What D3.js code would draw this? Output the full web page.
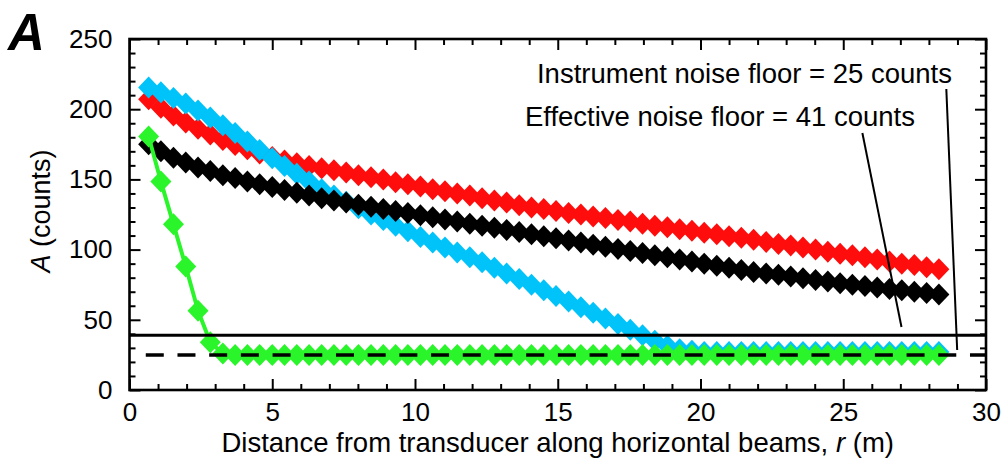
<!DOCTYPE html>
<html><head><meta charset="utf-8">
<script src="https://cdn.jsdelivr.net/npm/d3@7"></script>
<style>body{margin:0;background:#fff}svg{display:block;font-family:"Liberation Sans",Arial,Helvetica,sans-serif}</style>
</head><body><svg id="c" width="1001" height="466"></svg>
<script>
// Distance along beam (m)
const r = [0.67,1.10,1.54,1.97,2.40,2.83,3.27,3.70,4.13,4.56,5.00,5.43,5.86,6.29,6.73,7.16,7.59,8.02,8.46,8.89,9.32,9.75,10.19,10.62,11.05,11.48,11.92,12.35,12.78,13.21,13.65,14.08,14.51,14.94,15.38,15.81,16.24,16.67,17.11,17.54,17.97,18.40,18.84,19.27,19.70,20.13,20.57,21.00,21.43,21.86,22.30,22.73,23.16,23.59,24.03,24.46,24.89,25.32,25.76,26.19,26.62,27.05,27.49,27.92,28.35];
const redA = [207,201,195.5,190.5,186,182,178,174.5,171.5,168.5,166,163.5,161.5,159.5,158,156.5,155,153,151.5,150,148,146.5,145,143,141.5,140,138.5,136.5,135,133.5,131.5,130,129,127.5,126,125,123.5,122.5,121,120,118.5,117,116,114.5,113.5,112,111,109.5,108.5,107,105.5,104,103,101.5,100,98.5,97,96,94.5,93,91.5,90,89,87.5,86];
const blackA = [175,170,165.5,162,158.5,156,153,151,148.5,146.5,144.5,142.5,140.5,138.5,136.5,135,133.5,132,130.5,129,127.5,126,124.5,123,121.5,120,118.5,117,115.5,114,112.5,111,109.5,108,106.5,105,103.5,102,100.5,99,97.5,96,94.5,93,91.5,90,88.5,87,85.5,84,83,82,80.8,79.6,78.4,77.2,76,75,74,73,72,71,70,69,68];
const blueA = [215.5,212,208,204,199,194,188.5,183,177,171,165,159.5,154,148.5,143,138.5,134,129.5,125,121,117,113,109,105,101.5,98,94.5,91,87,83,79,75,71,67,63,59,55,51,47,43,39,35,31.5,29,28,27,27,27,27,27,27,27,27,27,27,27,27,27,27,27,27,27,27,27,27];
const greenA = [180.5,148.5,118,88,56.5,34,26,25,25,25,25,25,25,25,25,25,25,25,25,25,25,25,25,25,25,25,25,25,25,25,25,25,25,25,25,25,25,25,25,25,25,25,25,25,25,25,25,25,25,25,25,25,25,25,25,25,25,25,25,25,25,25,25,25,25];
const xMajor = [0,5,10,15,20,25,30];
const yMajor = [0,50,100,150,200,250];
const effectiveFloor = 39;   // as drawn
const instrumentFloor = 25;

const x = d3.scaleLinear().domain([0,30]).range([129.5,986]);
const y = d3.scaleLinear().domain([0,250]).range([390,39]);
const svg = d3.select('#c');

const xMinor = d3.range(0,31,1).filter(v=>v%5!==0);
const yMinor = d3.range(0,251,10).filter(v=>v%50!==0);

function styleAxis(g){ g.select('.domain').remove(); g.selectAll('line').attr('stroke','#000').attr('stroke-width',2); g.selectAll('text').attr('font-size',26).attr('fill','#000').attr('font-family','"Liberation Sans",Arial,sans-serif'); }

svg.append('g').attr('transform','translate(0,390)').call(d3.axisBottom(x).tickValues(xMajor).tickSize(-11).tickPadding(13).tickFormat(d3.format('d'))).call(styleAxis);
svg.append('g').attr('transform','translate(0,390)').call(d3.axisBottom(x).tickValues(xMinor).tickSize(-6).tickFormat('')).call(styleAxis);
svg.append('g').attr('transform','translate(0,39)').call(d3.axisTop(x).tickValues(xMajor).tickSize(-11).tickFormat('')).call(styleAxis);
svg.append('g').attr('transform','translate(0,39)').call(d3.axisTop(x).tickValues(xMinor).tickSize(-6).tickFormat('')).call(styleAxis);
svg.append('g').attr('transform','translate(129.5,0)').call(d3.axisLeft(y).tickValues(yMajor).tickSize(-11).tickPadding(17).tickFormat(d3.format('d'))).call(styleAxis);
svg.append('g').attr('transform','translate(129.5,0)').call(d3.axisLeft(y).tickValues(yMinor).tickSize(-6).tickFormat('')).call(styleAxis);
svg.append('g').attr('transform','translate(986,0)').call(d3.axisRight(y).tickValues(yMajor).tickSize(-11).tickFormat('')).call(styleAxis);
svg.append('g').attr('transform','translate(986,0)').call(d3.axisRight(y).tickValues(yMinor).tickSize(-6).tickFormat('')).call(styleAxis);

svg.append('rect').attr('x',x(0)).attr('y',y(250)).attr('width',x(30)-x(0)).attr('height',y(0)-y(250))
  .attr('fill','none').attr('stroke','#000').attr('stroke-width',2.6);

const diamond = 'M0,-11L10.5,0L0,11L-10.5,0Z';
function series(vals,color){
  svg.append('g').selectAll('path').data(vals).join('path')
    .attr('d',diamond).attr('transform',(d,i)=>`translate(${x(r[i])},${y(d)})`).attr('fill',color);
}
series(redA,'#ff0d0d');
series(blueA,'#00c3fa');
series(blackA,'#000');
svg.append('path').datum(greenA).attr('fill','none').attr('stroke','#2af52a').attr('stroke-width',4)
  .attr('d',d3.line().x((d,i)=>x(r[i])).y(d=>y(d)));
series(greenA,'#2af52a');

svg.append('line').attr('x1',x(0)).attr('x2',x(30)).attr('y1',y(effectiveFloor)).attr('y2',y(effectiveFloor))
  .attr('stroke','#000').attr('stroke-width',3);
svg.append('line').attr('x1',x(0.57)).attr('x2',x(30)).attr('y1',y(instrumentFloor)).attr('y2',y(instrumentFloor))
  .attr('stroke','#000').attr('stroke-width',3.5).attr('stroke-dasharray','18,13.7');

// leader lines
svg.append('line').attr('x1',x(25.67)).attr('y1',y(183)).attr('x2',x(27.04)).attr('y2',y(44.9)).attr('stroke','#000').attr('stroke-width',2);
svg.append('line').attr('x1',x(28.61)).attr('y1',y(214.4)).attr('x2',x(28.99)).attr('y2',y(28.5)).attr('stroke','#000').attr('stroke-width',2);

svg.append('text').attr('x',952).attr('y',83).attr('text-anchor','end').attr('font-size',27.5).text('Instrument noise floor = 25 counts');
svg.append('text').attr('x',915).attr('y',126).attr('text-anchor','end').attr('font-size',27.5).text('Effective noise floor = 41 counts');

svg.append('text').attr('x',8).attr('y',50).attr('font-size',51).attr('font-weight','bold').attr('font-style','italic').text('A');

const yt = svg.append('text').attr('transform','translate(50,211) rotate(-90)').attr('text-anchor','middle').attr('font-size',27);
yt.append('tspan').attr('font-style','italic').text('A');
yt.append('tspan').text(' (counts)');

const xt = svg.append('text').attr('x',557.7).attr('y',452).attr('text-anchor','middle').attr('font-size',27.5);
xt.append('tspan').text('Distance from transducer along horizontal beams, ');
xt.append('tspan').attr('font-style','italic').text('r');
xt.append('tspan').text(' (m)');
</script></body></html>
